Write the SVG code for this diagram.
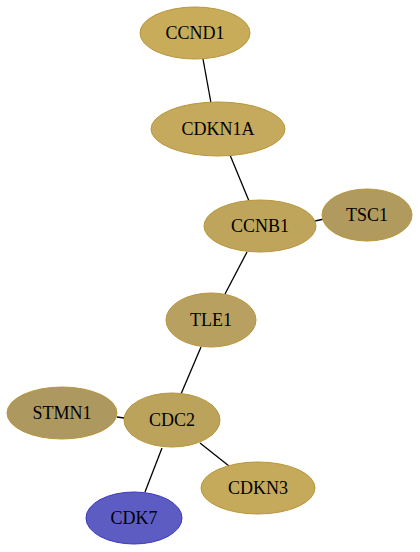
<svg xmlns="http://www.w3.org/2000/svg" width="420" height="552" viewBox="0 0 420 552">
<style>
text{font-family:"Liberation Serif","DejaVu Serif",serif;font-size:18px;text-anchor:middle;fill:#000}
.e{stroke:#000;stroke-width:1.3;fill:none}
.g ellipse{stroke:#b8963a;stroke-width:1}
</style>
<rect width="420" height="552" fill="#fff"/>
<g id="edges">
<line class="e" x1="203" y1="59" x2="211" y2="103"/>
<line class="e" x1="230" y1="155" x2="249" y2="201"/>
<line class="e" x1="315" y1="221" x2="324" y2="219"/>
<line class="e" x1="247" y1="252" x2="225" y2="294"/>
<line class="e" x1="201" y1="347" x2="181" y2="394"/>
<line class="e" x1="117" y1="417" x2="124" y2="418"/>
<line class="e" x1="162" y1="448" x2="145" y2="492"/>
<line class="e" x1="200" y1="443" x2="229" y2="466"/>
</g>
<g id="CCND1" class="g"><ellipse cx="195" cy="33" rx="55" ry="26" fill="#c8ac5a"/><text x="195" y="39">CCND1</text></g>
<g id="CDKN1A" class="g"><ellipse cx="218" cy="129" rx="67" ry="27" fill="#c5a95c"/><text x="218" y="135">CDKN1A</text></g>
<g id="CCNB1" class="g"><ellipse cx="260" cy="226" rx="56" ry="26" fill="#bfa55c"/><text x="260" y="232">CCNB1</text></g>
<g id="TSC1" class="g"><ellipse cx="367" cy="215" rx="45" ry="26" fill="#b09a5e"/><text x="367" y="221">TSC1</text></g>
<g id="TLE1" class="g"><ellipse cx="211" cy="320" rx="45" ry="27" fill="#b8a060"/><text x="211" y="326">TLE1</text></g>
<g id="STMN1" class="g"><ellipse cx="62" cy="413" rx="55" ry="26" fill="#ad9860"/><text x="62" y="419">STMN1</text></g>
<g id="CDC2" class="g"><ellipse cx="172" cy="420" rx="48" ry="27" fill="#bba35c"/><text x="172" y="426">CDC2</text></g>
<g id="CDKN3" class="g"><ellipse cx="258" cy="488" rx="57" ry="26" fill="#c6aa5c"/><text x="258" y="494">CDKN3</text></g>
<g id="CDK7"><ellipse cx="134" cy="518" rx="48" ry="26" fill="#5c5cc2" stroke="#3a3ab8" stroke-width="1"/><text x="134" y="524">CDK7</text></g>
</svg>
